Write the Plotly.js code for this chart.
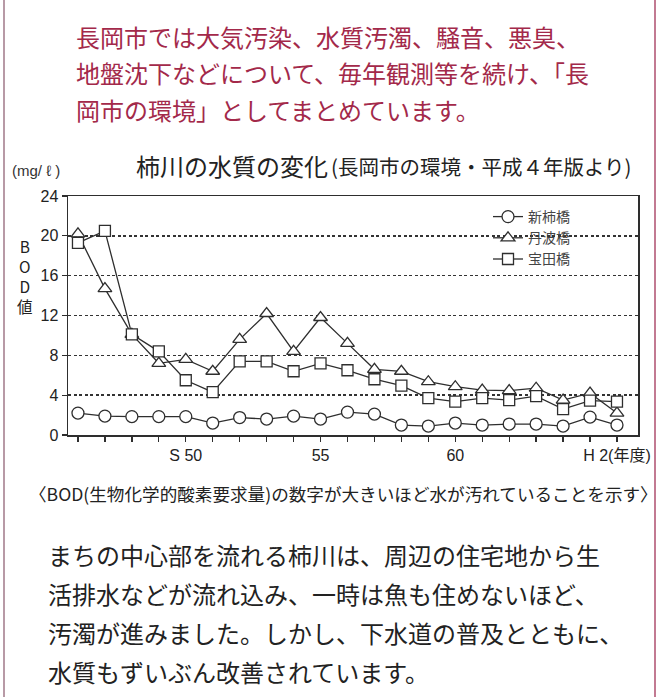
<!DOCTYPE html>
<html>
<head>
<meta charset="utf-8">
<script src="https://cdn.plot.ly/plotly-3.0.1.min.js"></script>
<style>
  html, body { margin: 0; padding: 0; background: #ffffff; }
  #chart { width: 667px; height: 697px; }
</style>
</head>
<body>
<div id="chart"></div>
<script>
// ---- data ----
const years = ['S46','S47','S48','S49','S50','S51','S52','S53','S54','S55','S56','S57','S58','S59','S60','S61','S62','S63','S64','H1','H2'];
const xTickText = ['', '', '', '', 'S 50', '', '', '', '', '55', '', '', '', '', '60', '', '', '', '', '', 'H 2(年度)'];
const shinkaki = [2.2,1.9,1.85,1.85,1.85,1.2,1.75,1.6,1.9,1.6,2.3,2.1,1.0,0.9,1.2,1.0,1.1,1.1,0.9,1.8,1.0];
const tanba    = [20.2,14.7,10.1,7.2,7.6,6.4,9.6,12.2,8.4,11.8,9.2,6.6,6.4,5.35,4.85,4.5,4.45,4.7,3.5,4.2,2.2];
const takarada = [19.3,20.5,10.1,8.4,5.5,4.3,7.4,7.4,6.4,7.2,6.5,5.6,4.95,3.7,3.35,3.7,3.5,3.9,2.6,3.45,3.35];
const seriesNames = ['新柿橋', '丹波橋', '宝田橋'];
const yTicks = [0, 4, 8, 12, 16, 20, 24];

const topLines = [
  '長岡市では大気汚染、水質汚濁、騒音、悪臭、',
  '地盤沈下などについて、毎年観測等を続け、「長',
  '岡市の環境」としてまとめています。'
];
const bottomLines = [
  'まちの中心部を流れる柿川は、周辺の住宅地から生',
  '活排水などが流れ込み、一時は魚も住めないほど、',
  '汚濁が進みました。しかし、下水道の普及とともに、',
  '水質もずいぶん改善されています。'
];
const chartTitle = '柿川の水質の変化';
const chartSubtitle = '(長岡市の環境・平成４年版より)';
const unitLabel = '(mg/ ℓ )';
const yLabel = 'B<br>O<br>D<br>値';
const footNote = '〈BOD(生物化学的酸素要求量)の数字が大きいほど水が汚れていることを示す〉';

// ---- layout geometry ----
const W = 667, H = 697;
const M = {l: 68, r: 29, t: 196, b: 262};
const PW = W - M.l - M.r, PH = H - M.t - M.b;
const px = v => (v - M.l) / PW;
const py = v => (H - M.b - v) / PH;

const CJK = '"Noto Sans CJK JP", "Noto Sans", sans-serif';
const LAT = '"Liberation Sans", Arial, "Noto Sans CJK JP", sans-serif';
const ink = '#2e2e2e';

function mk(name, y, symbol, size) {
  return {
    type: 'scatter', mode: 'lines+markers', name: name,
    x: years, y: y,
    line: {color: ink, width: 1.3},
    marker: {symbol: symbol, size: size, color: '#ffffff', line: {color: ink, width: 1.3}},
    cliponaxis: false
  };
}

const traces = [
  mk(seriesNames[0], shinkaki, 'circle', 12),
  mk(seriesNames[1], tanba, 'triangle-up', 12),
  mk(seriesNames[2], takarada, 'square', 11)
];

const ann = [];
topLines.forEach((t, i) => ann.push({
  xref: 'paper', yref: 'paper', x: px(74), y: py(36 + i * 36.5),
  xanchor: 'left', yanchor: 'middle', showarrow: false, text: t,
  font: {family: CJK, size: 24, color: '#a3294a'}
}));
bottomLines.forEach((t, i) => ann.push({
  xref: 'paper', yref: 'paper', x: px(46), y: py(554 + i * 39),
  xanchor: 'left', yanchor: 'middle', showarrow: false, text: t,
  font: {family: CJK, size: 24, color: '#222222'}
}));
ann.push({xref: 'paper', yref: 'paper', x: px(134), y: py(165), xanchor: 'left', yanchor: 'middle',
  showarrow: false, text: chartTitle, font: {family: CJK, size: 24, color: '#222'}});
ann.push({xref: 'paper', yref: 'paper', x: px(329), y: py(166), xanchor: 'left', yanchor: 'middle',
  showarrow: false, text: chartSubtitle, font: {family: CJK, size: 20.5, color: '#222'}});
ann.push({xref: 'paper', yref: 'paper', x: px(10), y: py(170), xanchor: 'left', yanchor: 'middle',
  showarrow: false, text: unitLabel, font: {family: LAT, size: 15, color: '#333'}});
ann.push({xref: 'paper', yref: 'paper', x: px(25), y: py(276), xanchor: 'center', yanchor: 'middle',
  showarrow: false, text: yLabel, font: {family: CJK, size: 15.5, color: '#222'}});
ann.push({xref: 'paper', yref: 'paper', x: px(343), y: py(493), xanchor: 'center', yanchor: 'middle',
  showarrow: false, text: footNote, font: {family: CJK, size: 17.6, color: '#222'}});

const borderColor = '#c27a92';
const shapes = [
  {type: 'line', xref: 'paper', yref: 'paper', x0: px(4), x1: px(4), y0: py(0), y1: py(H), line: {color: '#b89aa6', width: 2}},
  {type: 'line', xref: 'paper', yref: 'paper', x0: px(655), x1: px(655), y0: py(0), y1: py(H), line: {color: borderColor, width: 2}}
];

const layout = {
  width: W, height: H,
  margin: M,
  paper_bgcolor: '#ffffff', plot_bgcolor: '#ffffff',
  font: {family: LAT, color: ink},
  showlegend: true,
  legend: {
    x: px(488), y: py(201), xanchor: 'left', yanchor: 'top',
    bgcolor: 'rgba(0,0,0,0)', borderwidth: 0,
    font: {family: CJK, size: 14, color: '#444'},
    itemwidth: 30, tracegroupgap: 0
  },
  xaxis: {
    type: 'category', range: [-0.37, 20.78],
    tickmode: 'array', tickvals: years, ticktext: xTickText,
    ticks: 'outside', ticklen: 5, tickwidth: 1.3, tickcolor: ink,
    showline: true, linecolor: ink, linewidth: 1.5, mirror: true,
    showgrid: false, zeroline: false,
    tickfont: {family: LAT, size: 16, color: '#222'}
  },
  yaxis: {
    range: [0, 24], tickmode: 'array', tickvals: yTicks,
    ticks: 'outside', ticklen: 5, tickwidth: 1.3, tickcolor: ink,
    showline: true, linecolor: ink, linewidth: 1.5, mirror: true,
    showgrid: true, gridcolor: '#333', gridwidth: 1.5, griddash: '3px,2.5px',
    zeroline: false,
    tickfont: {family: LAT, size: 16, color: '#222'}
  },
  annotations: ann,
  shapes: shapes
};

Plotly.newPlot('chart', traces, layout, {staticPlot: true, displayModeBar: false});
</script>
</body>
</html>
